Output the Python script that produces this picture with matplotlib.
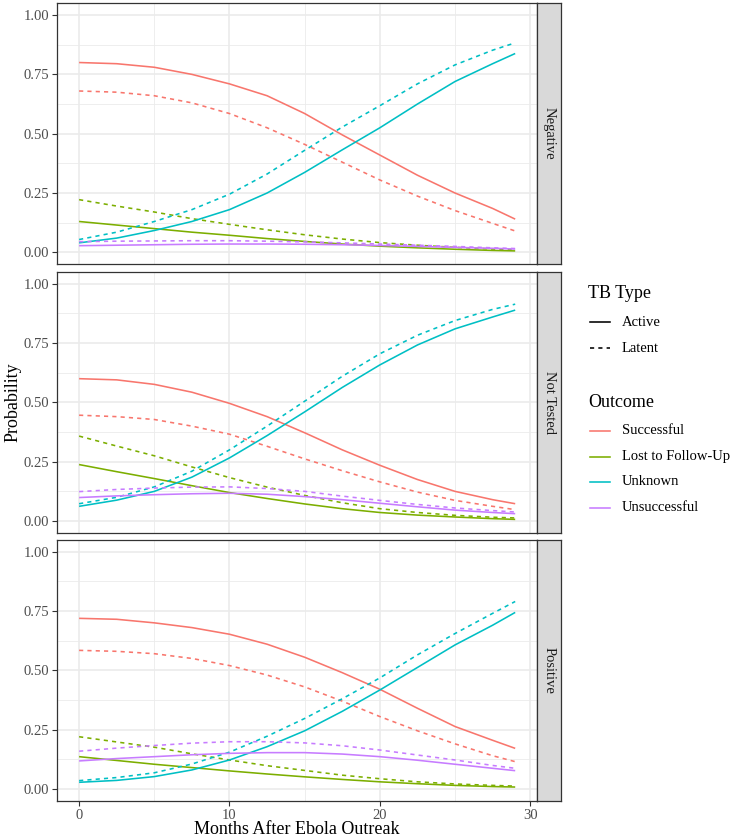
import matplotlib
matplotlib.use("Agg")
import matplotlib.pyplot as plt
from matplotlib.lines import Line2D

plt.rcParams['font.family'] = ['Liberation Serif', 'DejaVu Serif']

# ---------------- data ----------------
months = [0, 2.5, 5, 7.5, 10, 12.5, 15, 17.5, 20, 22.5, 25, 27.5, 29]

facets = ['Negative', 'Not Tested', 'Positive']
outcomes = ['Successful', 'Lost to Follow-Up', 'Unknown', 'Unsuccessful']
tb_types = ['Active', 'Latent']

# Negative
neg_successful_active = [0.80, 0.795, 0.78, 0.75, 0.71, 0.66, 0.585, 0.495, 0.41, 0.325, 0.25, 0.185, 0.14]
neg_successful_latent = [0.68, 0.675, 0.66, 0.63, 0.585, 0.525, 0.455, 0.38, 0.305, 0.237, 0.176, 0.122, 0.09]
neg_lost_active = [0.13, 0.115, 0.10, 0.085, 0.072, 0.058, 0.046, 0.035, 0.026, 0.019, 0.013, 0.008, 0.006]
neg_lost_latent = [0.222, 0.195, 0.17, 0.142, 0.118, 0.095, 0.074, 0.056, 0.041, 0.03, 0.021, 0.014, 0.011]
neg_unknown_active = [0.04, 0.06, 0.092, 0.13, 0.18, 0.25, 0.337, 0.432, 0.525, 0.625, 0.72, 0.795, 0.838]
neg_unknown_latent = [0.054, 0.085, 0.13, 0.18, 0.245, 0.33, 0.43, 0.528, 0.618, 0.71, 0.79, 0.852, 0.883]
neg_unsucc_active = [0.028, 0.03, 0.032, 0.034, 0.035, 0.035, 0.034, 0.032, 0.029, 0.025, 0.021, 0.017, 0.014]
neg_unsucc_latent = [0.045, 0.047, 0.048, 0.049, 0.049, 0.047, 0.044, 0.040, 0.035, 0.03, 0.025, 0.019, 0.016]

# Not Tested
nt_successful_active = [0.60, 0.595, 0.576, 0.543, 0.496, 0.44, 0.372, 0.30, 0.235, 0.175, 0.125, 0.09, 0.073]
nt_successful_latent = [0.446, 0.44, 0.428, 0.40, 0.366, 0.315, 0.262, 0.212, 0.165, 0.122, 0.087, 0.062, 0.048]
nt_lost_active = [0.238, 0.208, 0.179, 0.149, 0.12, 0.095, 0.072, 0.052, 0.036, 0.025, 0.017, 0.01, 0.007]
nt_lost_latent = [0.358, 0.316, 0.275, 0.228, 0.183, 0.143, 0.108, 0.077, 0.052, 0.036, 0.024, 0.016, 0.013]
nt_unknown_active = [0.062, 0.088, 0.125, 0.185, 0.266, 0.36, 0.46, 0.563, 0.658, 0.742, 0.81, 0.86, 0.889]
nt_unknown_latent = [0.073, 0.10, 0.144, 0.21, 0.30, 0.40, 0.505, 0.61, 0.705, 0.783, 0.845, 0.892, 0.914]
nt_unsucc_active = [0.099, 0.106, 0.111, 0.115, 0.117, 0.113, 0.103, 0.09, 0.075, 0.06, 0.046, 0.036, 0.031]
nt_unsucc_latent = [0.124, 0.133, 0.139, 0.143, 0.144, 0.137, 0.125, 0.105, 0.087, 0.07, 0.055, 0.044, 0.038]

# Positive
pos_successful_active = [0.719, 0.715, 0.70, 0.68, 0.652, 0.61, 0.555, 0.49, 0.42, 0.34, 0.263, 0.205, 0.171]
pos_successful_latent = [0.584, 0.58, 0.57, 0.55, 0.52, 0.48, 0.43, 0.37, 0.305, 0.245, 0.19, 0.14, 0.115]
pos_lost_active = [0.136, 0.12, 0.104, 0.09, 0.076, 0.063, 0.051, 0.04, 0.03, 0.022, 0.015, 0.01, 0.008]
pos_lost_latent = [0.22, 0.198, 0.176, 0.148, 0.122, 0.098, 0.078, 0.058, 0.043, 0.03, 0.021, 0.015, 0.012]
pos_unknown_active = [0.028, 0.036, 0.052, 0.08, 0.122, 0.178, 0.245, 0.327, 0.417, 0.512, 0.607, 0.69, 0.744]
pos_unknown_latent = [0.035, 0.048, 0.068, 0.105, 0.155, 0.222, 0.297, 0.38, 0.468, 0.565, 0.655, 0.74, 0.79]
pos_unsucc_active = [0.118, 0.128, 0.136, 0.144, 0.15, 0.153, 0.153, 0.147, 0.136, 0.121, 0.104, 0.087, 0.077]
pos_unsucc_latent = [0.159, 0.172, 0.183, 0.193, 0.199, 0.199, 0.194, 0.182, 0.164, 0.143, 0.122, 0.099, 0.087]

x_ticks = [0, 10, 20, 30]
y_ticks = [0.0, 0.25, 0.5, 0.75, 1.0]
y_ticklabels = ['0.00', '0.25', '0.50', '0.75', '1.00']

# ---------------- structure ----------------
series = {
    'Negative': {
        ('Successful', 'Active'): neg_successful_active, ('Successful', 'Latent'): neg_successful_latent,
        ('Lost to Follow-Up', 'Active'): neg_lost_active, ('Lost to Follow-Up', 'Latent'): neg_lost_latent,
        ('Unknown', 'Active'): neg_unknown_active, ('Unknown', 'Latent'): neg_unknown_latent,
        ('Unsuccessful', 'Active'): neg_unsucc_active, ('Unsuccessful', 'Latent'): neg_unsucc_latent,
    },
    'Not Tested': {
        ('Successful', 'Active'): nt_successful_active, ('Successful', 'Latent'): nt_successful_latent,
        ('Lost to Follow-Up', 'Active'): nt_lost_active, ('Lost to Follow-Up', 'Latent'): nt_lost_latent,
        ('Unknown', 'Active'): nt_unknown_active, ('Unknown', 'Latent'): nt_unknown_latent,
        ('Unsuccessful', 'Active'): nt_unsucc_active, ('Unsuccessful', 'Latent'): nt_unsucc_latent,
    },
    'Positive': {
        ('Successful', 'Active'): pos_successful_active, ('Successful', 'Latent'): pos_successful_latent,
        ('Lost to Follow-Up', 'Active'): pos_lost_active, ('Lost to Follow-Up', 'Latent'): pos_lost_latent,
        ('Unknown', 'Active'): pos_unknown_active, ('Unknown', 'Latent'): pos_unknown_latent,
        ('Unsuccessful', 'Active'): pos_unsucc_active, ('Unsuccessful', 'Latent'): pos_unsucc_latent,
    },
}

colors = {'Successful': '#F8766D', 'Lost to Follow-Up': '#7CAE00',
          'Unknown': '#00BFC4', 'Unsuccessful': '#C77CFF'}
dash = {'Active': (None, None), 'Latent': (2.6, 2.6)}

W, H = 730, 840
fig = plt.figure(figsize=(W / 100, H / 100), dpi=100)

panel_left, panel_right = 57.3, 537.0
panel_tops = [3.2, 271.9, 539.8]
panel_h = 261.0
strip_w = 24.0
grey20 = '#333333'
grid_c = '#EBEBEB'

def fx(px):
    return px / W

def fy(py):
    return 1 - py / H

for i, facet in enumerate(facets):
    top = panel_tops[i]
    ax = fig.add_axes([fx(panel_left), fy(top + panel_h), fx(panel_right - panel_left), panel_h / H])
    ax.set_xlim(-1.45, 30.45)
    ax.set_ylim(-0.05, 1.05)
    # grid
    for v in [5, 15, 25]:
        ax.axvline(v, color=grid_c, lw=0.6, zorder=0)
    for v in [0.125, 0.375, 0.625, 0.875]:
        ax.axhline(v, color=grid_c, lw=0.6, zorder=0)
    for v in x_ticks:
        ax.axvline(v, color=grid_c, lw=1.2, zorder=0)
    for v in y_ticks:
        ax.axhline(v, color=grid_c, lw=1.2, zorder=0)
    for (outc, tbt), vals in series[facet].items():
        ln, = ax.plot(months, vals, color=colors[outc], lw=1.15, zorder=2,
                      solid_capstyle='butt', dash_capstyle='butt',
                      solid_joinstyle='round')
        if tbt == 'Latent':
            ln.set_dashes(dash['Latent'])
    ax.set_xticks(x_ticks)
    ax.set_yticks(y_ticks)
    ax.set_yticklabels(y_ticklabels)
    ax.tick_params(axis='both', length=3.3, width=0.8, color=grey20,
                   labelcolor='#4D4D4D', labelsize=10.5, pad=2.5)
    if i < 2:
        ax.tick_params(axis='x', labelbottom=False, bottom=False)
    for s in ax.spines.values():
        s.set_color(grey20)
        s.set_linewidth(0.9)
    # strip
    sax = fig.add_axes([fx(panel_right), fy(top + panel_h), fx(strip_w), panel_h / H])
    sax.set_facecolor('#D9D9D9')
    sax.set_xticks([])
    sax.set_yticks([])
    for s in sax.spines.values():
        s.set_color(grey20)
        s.set_linewidth(0.9)
    sax.text(0.5, 0.5, facet, rotation=270, ha='center', va='center',
             fontsize=10.5, color='#1A1A1A', transform=sax.transAxes)

# axis titles
fig.text(fx(13), fy((panel_tops[0] + panel_tops[2] + panel_h) / 2), 'Probability',
         rotation=90, ha='center', va='center', fontsize=13)
fig.text(fx((panel_left + panel_right) / 2), fy(829), 'Months After Ebola Outreak',
         ha='center', va='center', fontsize=13)

# legend (manual)
key_x0, key_x1, lab_x, title_x = 590, 610, 622, 588
fig.text(fx(title_x), fy(293), 'TB Type', ha='left', va='center', fontsize=13)
for y, tbt in zip([322, 348], tb_types):
    l = Line2D([fx(key_x0), fx(key_x1)], [fy(y), fy(y)], transform=fig.transFigure,
               color='black', lw=1.15)
    if tbt == 'Latent':
        l.set_dashes(dash['Latent'])
    fig.add_artist(l)
    fig.text(fx(lab_x), fy(y), tbt, ha='left', va='center', fontsize=10.5)

fig.text(fx(title_x), fy(402), 'Outcome', ha='left', va='center', fontsize=13)
for y, outc in zip([431, 457, 482, 508], outcomes):
    fig.add_artist(Line2D([fx(key_x0), fx(key_x1)], [fy(y), fy(y)], transform=fig.transFigure,
                          color=colors[outc], lw=1.15))
    fig.text(fx(lab_x), fy(y), outc, ha='left', va='center', fontsize=10.5)

fig.savefig('out.png', dpi=100)
